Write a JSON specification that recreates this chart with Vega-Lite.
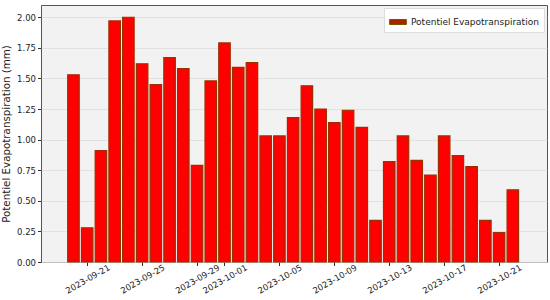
{
  "$schema": "https://vega.github.io/schema/vega-lite/v6.json",
  "autosize": {"type": "none"},
  "padding": {"left": 41, "top": 5, "right": 3, "bottom": 38},
  "width": 506,
  "height": 257,
  "background": "#ffffff",
  "config": {
    "font": "DejaVu Sans",
    "view": {"fill": "#f2f2f2", "stroke": "#555555", "strokeWidth": 1}
  },
  "data": {
    "values": [
      {"date": "2023-09-20", "pet": 1.53},
      {"date": "2023-09-21", "pet": 0.28},
      {"date": "2023-09-22", "pet": 0.91},
      {"date": "2023-09-23", "pet": 1.97},
      {"date": "2023-09-24", "pet": 2.00},
      {"date": "2023-09-25", "pet": 1.62},
      {"date": "2023-09-26", "pet": 1.45},
      {"date": "2023-09-27", "pet": 1.67},
      {"date": "2023-09-28", "pet": 1.58},
      {"date": "2023-09-29", "pet": 0.79},
      {"date": "2023-09-30", "pet": 1.48},
      {"date": "2023-10-01", "pet": 1.79},
      {"date": "2023-10-02", "pet": 1.59},
      {"date": "2023-10-03", "pet": 1.63},
      {"date": "2023-10-04", "pet": 1.03},
      {"date": "2023-10-05", "pet": 1.03},
      {"date": "2023-10-06", "pet": 1.18},
      {"date": "2023-10-07", "pet": 1.44},
      {"date": "2023-10-08", "pet": 1.25},
      {"date": "2023-10-09", "pet": 1.14},
      {"date": "2023-10-10", "pet": 1.24},
      {"date": "2023-10-11", "pet": 1.10},
      {"date": "2023-10-12", "pet": 0.34},
      {"date": "2023-10-13", "pet": 0.82},
      {"date": "2023-10-14", "pet": 1.03},
      {"date": "2023-10-15", "pet": 0.83},
      {"date": "2023-10-16", "pet": 0.71},
      {"date": "2023-10-17", "pet": 1.03},
      {"date": "2023-10-18", "pet": 0.87},
      {"date": "2023-10-19", "pet": 0.78},
      {"date": "2023-10-20", "pet": 0.34},
      {"date": "2023-10-21", "pet": 0.24},
      {"date": "2023-10-22", "pet": 0.59}
    ]
  },
  "mark": {"type": "bar", "width": 11.5, "fill": "#ff0000", "stroke": "#9a3000", "strokeWidth": 1.2},
  "encoding": {
    "x": {
      "field": "date",
      "type": "temporal",
      "scale": {
        "type": "utc",
        "domain": [
          {"year": 2023, "month": 9, "date": 18, "utc": true},
          {"year": 2023, "month": 10, "date": 24, "hours": 3, "utc": true}
        ]
      },
      "axis": {
        "title": null,
        "values": [
          {"year": 2023, "month": 9, "date": 21, "utc": true},
          {"year": 2023, "month": 9, "date": 25, "utc": true},
          {"year": 2023, "month": 9, "date": 29, "utc": true},
          {"year": 2023, "month": 10, "date": 1, "utc": true},
          {"year": 2023, "month": 10, "date": 5, "utc": true},
          {"year": 2023, "month": 10, "date": 9, "utc": true},
          {"year": 2023, "month": 10, "date": 13, "utc": true},
          {"year": 2023, "month": 10, "date": 17, "utc": true},
          {"year": 2023, "month": 10, "date": 21, "utc": true}
        ],
        "labelExpr": "utcFormat(datum.value, '%Y-%m-%d')",
        "labelAngle": -30,
        "labelAlign": "center",
        "labelBaseline": "middle",
        "labelFontSize": 8.5,
        "labelColor": "#222222",
        "grid": false,
        "domain": false,
        "tickColor": "#333333",
        "tickSize": 3.5,
        "labelPadding": 13,
        "labelOverlap": false,
        "labelBound": false
      }
    },
    "y": {
      "field": "pet",
      "type": "quantitative",
      "scale": {"domain": [0, 2.1], "nice": false},
      "axis": {
        "title": "Potentiel Evapotranspiration (mm)",
        "titleFontSize": 10.3,
        "titleFontWeight": "normal",
        "titleColor": "#222222",
        "titlePadding": 5,
        "values": [0, 0.25, 0.5, 0.75, 1.0, 1.25, 1.5, 1.75, 2.0],
        "format": ".2f",
        "labelFontSize": 8.5,
        "labelColor": "#222222",
        "grid": true,
        "gridColor": "#dcdcdc",
        "gridWidth": 0.8,
        "domain": false,
        "tickColor": "#333333",
        "tickSize": 3.5,
        "labelPadding": 2
      }
    },
    "color": {
      "datum": "Potentiel Evapotranspiration",
      "scale": {"range": ["#a82400"]},
      "legend": {
        "title": null,
        "orient": "top-right",
        "offset": 3,
        "fillColor": "#ffffff",
        "strokeColor": "#dddddd",
        "padding": 5,
        "labelFontSize": 9,
        "labelColor": "#222222",
        "symbolType": "M-1,-0.3L1,-0.3L1,0.3L-1,0.3Z",
        "symbolSize": 280,
        "symbolStrokeColor": "#7a5200",
        "symbolStrokeWidth": 1
      }
    }
  }
}
